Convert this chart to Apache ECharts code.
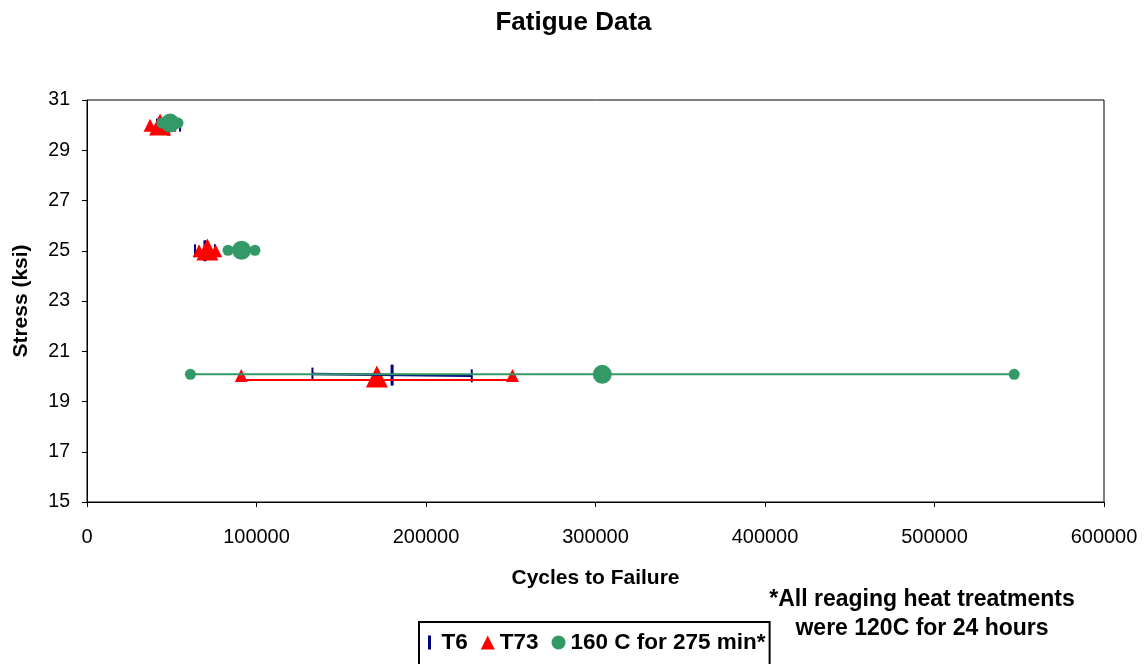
<!DOCTYPE html>
<html>
<head>
<meta charset="utf-8">
<title>Fatigue Data</title>
<script src="https://cdn.jsdelivr.net/npm/echarts@6/dist/echarts.min.js"></script>
<style>
  html, body { margin: 0; padding: 0; background: #fff; }
  #chart { width: 1147px; height: 664px; }
</style>
</head>
<body>
<div id="chart"></div>
<script>
// Fatigue test results: [cycles to failure, stress (ksi)]
const t6Points = [[41300, 30], [54900, 30], [63700, 25], [75500, 25], [133000, 20.09], [227000, 20.02]];
const t6Means = [[48100, 30], [69600, 25], [180000, 20.05]];
const t6Range = [[133000, 20.09], [227000, 20.02]];

const t73Points = [[37200, 30], [49000, 30], [66100, 25], [75900, 25], [91000, 20.03], [251000, 20.03]];
const t73Means = [[43100, 30.02], [71000, 25.05], [171000, 20]];
const t73Range = [[91000, 19.86], [251000, 19.86]];

const c160Points = [[44200, 30.08], [53700, 30.08], [83200, 25.02], [99100, 25.02], [61000, 20.08], [547000, 20.08]];
const c160Means = [[49000, 30.08], [91150, 25.02], [304000, 20.08]];
const c160Range = [[61000, 20.08], [547000, 20.08]];

const seriesNames = ['T6', 'T73', '160 C for 275 min*'];
const xTicks = { min: 0, max: 600000, step: 100000 };
const yTicks = { min: 15, max: 31, step: 2 };
const footnote = ['*All reaging heat treatments', 'were 120C for 24 hours'];

const FONT = "'Liberation Sans', Arial, Helvetica, sans-serif";
const BLUE = '#000080', RED = '#FF0000', GREEN = '#339966';

// Individual specimens are drawn small, the average for each stress level large.
function withMeans(points, means, smallSize, bigSize) {
  return points.map(p => ({ value: p, symbolSize: smallSize }))
    .concat(means.map(p => ({ value: p, symbolSize: bigSize })));
}

const chart = echarts.init(document.getElementById('chart'), null, { renderer: 'canvas' });

chart.setOption({
  animation: false,
  backgroundColor: '#fff',
  textStyle: { fontFamily: FONT },
  title: {
    text: 'Fatigue Data',
    left: 'center',
    top: 5,
    textStyle: { fontFamily: FONT, fontSize: 26, fontWeight: 'bold', color: '#000' }
  },
  grid: {
    left: 87, right: 43, top: 100, bottom: 162,
    show: true, borderColor: '#000', borderWidth: 1, backgroundColor: '#fff'
  },
  xAxis: {
    type: 'value',
    min: xTicks.min, max: xTicks.max, interval: xTicks.step,
    name: 'Cycles to Failure',
    nameLocation: 'middle',
    nameGap: 66,
    nameTextStyle: { fontFamily: FONT, fontSize: 21, fontWeight: 'bold', color: '#000' },
    axisLine: { show: true, lineStyle: { color: '#000', width: 1 } },
    axisTick: { show: true, inside: false, length: 5, lineStyle: { color: '#000' } },
    axisLabel: { margin: 25, fontFamily: FONT, fontSize: 20, color: '#000', formatter: v => String(v) },
    splitLine: { show: false }
  },
  yAxis: {
    type: 'value',
    min: yTicks.min, max: yTicks.max, interval: yTicks.step,
    name: 'Stress (ksi)',
    nameLocation: 'middle',
    nameGap: 55,
    nameTextStyle: { fontFamily: FONT, fontSize: 21, fontWeight: 'bold', color: '#000' },
    axisLine: { show: true, lineStyle: { color: '#000', width: 1 } },
    axisTick: { show: true, inside: false, length: 5, lineStyle: { color: '#000' } },
    axisLabel: { margin: 17, fontFamily: FONT, fontSize: 19.5, color: '#000', formatter: v => String(v) },
    splitLine: { show: false }
  },
  legend: {
    left: 419,
    top: 622,
    orient: 'horizontal',
    padding: [9, 4, 30, 9],
    itemGap: 13,
    itemWidth: 14,
    itemHeight: 14,
    borderColor: '#000',
    borderWidth: 2,
    textStyle: { fontFamily: FONT, fontSize: 22.5, fontWeight: 'bold', color: '#000' },
    data: [
      { name: seriesNames[0], icon: 'path://M0,0L3,0L3,14L0,14Z' },
      { name: seriesNames[1], icon: 'triangle' },
      { name: seriesNames[2], icon: 'circle' }
    ]
  },
  graphic: footnote.map((line, i) => ({
    type: 'text',
    x: 922,
    y: 600 + i * 29,
    style: {
      text: line,
      textAlign: 'center',
      textVerticalAlign: 'middle',
      font: "bold 23px 'Liberation Sans', Arial, sans-serif",
      fill: '#000'
    }
  })),
  series: [
    {
      name: 'T6 range', type: 'line', data: t6Range, symbol: 'none',
      lineStyle: { color: BLUE, width: 2.5 }, silent: true
    },
    {
      name: seriesNames[0], type: 'scatter', symbol: 'rect',
      data: withMeans(t6Points, t6Means, [2, 13], [3, 21]),
      itemStyle: { color: BLUE, opacity: 1 }
    },
    {
      name: 'T73 range', type: 'line', data: t73Range, symbol: 'none',
      lineStyle: { color: RED, width: 2 }, silent: true
    },
    {
      name: seriesNames[1], type: 'scatter', symbol: 'triangle',
      data: withMeans(t73Points, t73Means, 13, 22),
      itemStyle: { color: RED, opacity: 1 }
    },
    {
      name: '160 C range', type: 'line', data: c160Range, symbol: 'none',
      lineStyle: { color: GREEN, width: 2 }, silent: true
    },
    {
      name: seriesNames[2], type: 'scatter', symbol: 'circle',
      data: withMeans(c160Points, c160Means, 11, 19),
      itemStyle: { color: GREEN, opacity: 1 }
    }
  ]
});
</script>
</body>
</html>
